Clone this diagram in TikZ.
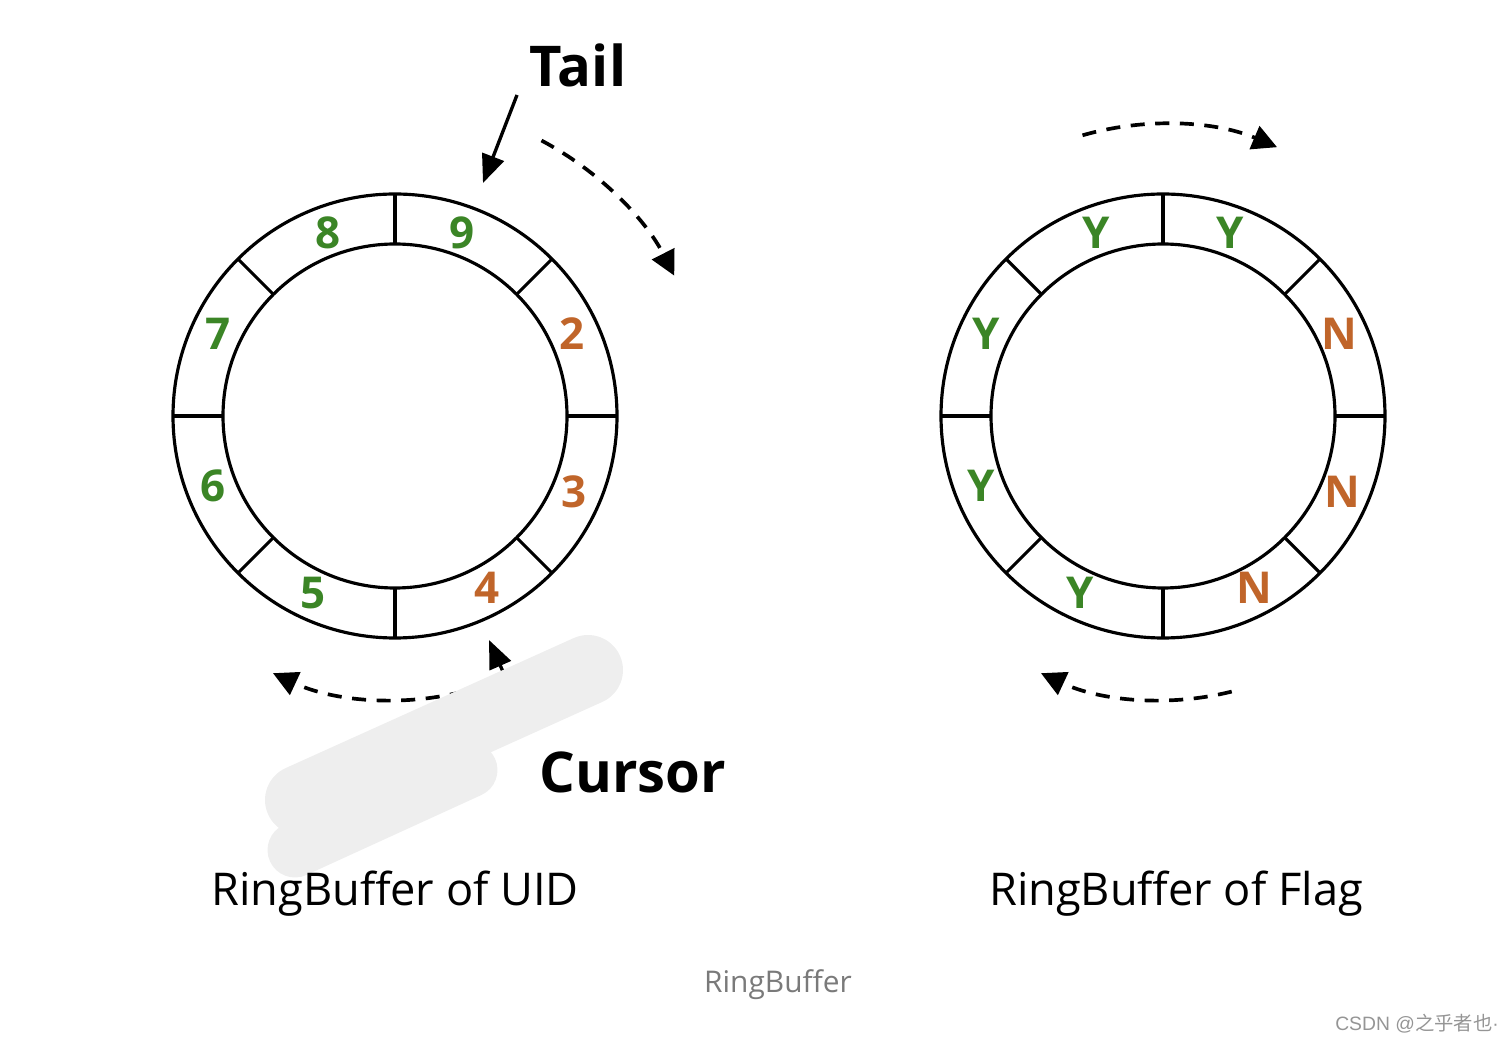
\documentclass[tikz,border=0pt]{standalone}
\usepackage{fontspec}
\setmainfont{Open Sans}
\newfontfamily\markfont{Liberation Sans}
\newfontfamily\cjkfont{Noto Sans CJK SC}
\usetikzlibrary{arrows.meta}

\definecolor{slotgreen}{HTML}{3B8526}
\definecolor{slotorange}{HTML}{C0652A}
\definecolor{captiongray}{HTML}{7A7A7A}

\begin{document}
\begin{tikzpicture}[
    x=0.02cm, y=0.02cm,
    ring/.style={line width=1.8pt},
    slot/.style={font=\fontsize{25}{25}\selectfont\bfseries},
    pointer/.style={-{Triangle[length=16pt, width=13pt]}, line width=1.9pt},
    flow/.style={-{Triangle[length=14pt, width=14pt]}, line width=2.1pt, dash pattern=on 8pt off 6pt},
    label/.style={font=\fontsize{32}{32}\selectfont\bfseries, anchor=base},
    title/.style={font=\fontsize{25.7}{25.7}\selectfont, anchor=base}
]
\useasboundingbox (0,0) rectangle (1508,1042);

\coordinate (uidc) at (395,626);
\coordinate (flagc) at (1163,626);

% the two rings
\foreach \c in {uidc, flagc} {
  \draw[ring] (\c) circle (222);
  \draw[ring] (\c) circle (172);
  \foreach \a in {0,45,...,315}
    \draw[ring] ([shift={(\a:172)}]\c) -- ([shift={(\a:222)}]\c);
}

% slot contents
\foreach \a/\t/\col [count=\i] in {25/2/slotorange, 70/9/slotgreen, 110/8/slotgreen, 155/7/slotgreen,
    201/6/slotgreen, 245/5/slotgreen, 298/4/slotorange, 337/3/slotorange}
  \node[slot, text=\col] (uid\i) at ([shift={(\a:195)}]uidc) {\t};
\foreach \a/\t/\col [count=\i] in {25/N/slotorange, 70/Y/slotgreen, 110/Y/slotgreen, 155/Y/slotgreen,
    201/Y/slotgreen, 245/Y/slotgreen, 298/N/slotorange, 337/N/slotorange}
  \node[slot, text=\col] (flag\i) at ([shift={(\a:195)}]flagc) {\t};

% direction of movement
\draw[flow] ([shift={(62:312)}]uidc) arc[start angle=62, end angle=27, radius=315];
\draw[flow] ([shift={(-76:284)}]uidc) arc[start angle=-76, end angle=-115, radius=287];
\draw[flow] ([shift={(106:292)}]flagc) arc[start angle=106, end angle=67, radius=292];
\draw[flow] ([shift={(-76:284)}]flagc) arc[start angle=-76, end angle=-115, radius=287];

% tail and cursor
\node[label] (tail) at (578,955) {Tail};
\coordinate (tailfrom) at (517,947);
\coordinate (tailto) at (483,859);
\draw[pointer] (tailfrom) -- (tailto);

\node[label] (cursor) at (633,250) {Cursor};
\coordinate (cursorfrom) at (512,350);
\coordinate (cursorto) at (489,402);
\draw[pointer] (cursorfrom) -- (cursorto);

% smudge over the picture
\draw[gray!13, line width=1.4cm, line cap=round] (300,242) -- (588,372);
\draw[gray!13, line width=1.1cm, line cap=round] (295,192) -- (470,272);

\node[title] (uidtitle) at (395,137) {RingBuffer of UID};
\node[title] (flagtitle) at (1176,137) {RingBuffer of Flag};
\node[font=\fontsize{17}{17}\selectfont, text=captiongray, anchor=base] (caption) at (778,50) {RingBuffer};
\node[font=\fontsize{11}{11}\selectfont\markfont, text=captiongray!80, anchor=base] (mark) at (1417,12) {CSDN @{\cjkfont 之乎者也}·};
\end{tikzpicture}
\end{document}
